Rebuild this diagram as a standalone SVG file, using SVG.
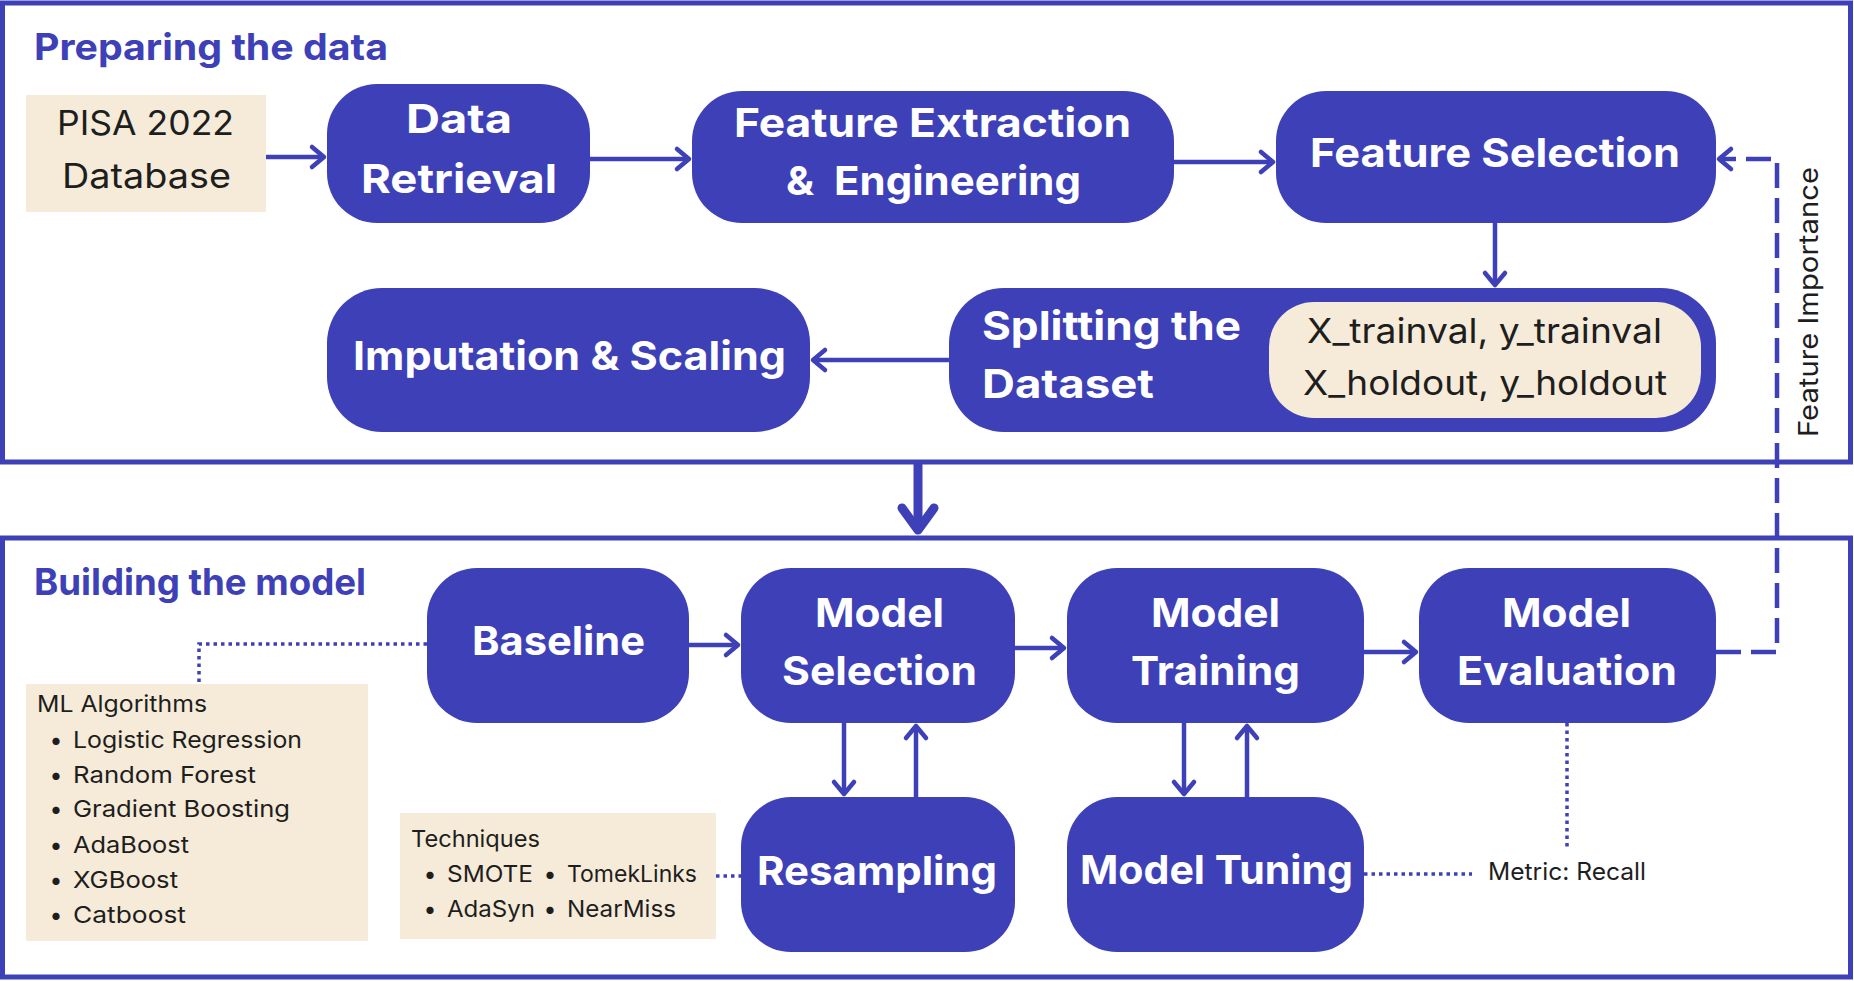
<svg xmlns="http://www.w3.org/2000/svg" width="1854" height="981" viewBox="0 0 1854 981">
  <style>
    .frame { fill: #ffffff; stroke: #3E40B8; stroke-width: 5; }
    .node { fill: #3E40B8; }
    .note { fill: #F5EBD8; }
    .title { font-family: Inter, "Liberation Sans", sans-serif; font-weight: 700; font-size: 37px; fill: #3E40B8; }
    .lbl { font-family: Inter, "Liberation Sans", sans-serif; font-weight: 700; font-size: 40px; fill: #ffffff; }
    .txt { font-family: Inter, "Liberation Sans", sans-serif; font-weight: 400; font-size: 34px; fill: #1E1E1E; }
    .sm { font-family: Inter, "Liberation Sans", sans-serif; font-weight: 400; font-size: 23px; fill: #1E1E1E; }
    .bul { font-family: Inter, "Liberation Sans", sans-serif; font-weight: 400; font-size: 23px; fill: #1E1E1E; text-anchor: middle; }
    .arrow { fill: none; stroke: #3E40B8; stroke-width: 4.5; marker-end: url(#ah); }
    .dash { fill: none; stroke: #3E40B8; stroke-width: 4.5; stroke-dasharray: 25 10; marker-end: url(#ah); }
    .dot { fill: none; stroke: #3E40B8; stroke-width: 3.5; stroke-dasharray: 3.5 4; }
    .big { fill: none; stroke: #3E40B8; stroke-width: 9; marker-end: url(#bigah); }
  </style>
  <defs>
    <marker id="ah" markerUnits="userSpaceOnUse" viewBox="-20 -15 25 30" markerWidth="25" markerHeight="30" refX="0" refY="0" orient="auto" overflow="visible">
      <path d="M-12 -10 L0 0 L-12 10" fill="none" stroke="#3E40B8" stroke-width="4.5" stroke-linecap="round" stroke-linejoin="round" stroke-dasharray="none"/>
    </marker>
    <marker id="bigah" markerUnits="userSpaceOnUse" viewBox="-30 -25 40 50" markerWidth="40" markerHeight="50" refX="0" refY="0" orient="auto" overflow="visible">
      <path d="M-22 -16 L0 0 L-22 16" fill="none" stroke="#3E40B8" stroke-width="9" stroke-linecap="round" stroke-linejoin="round"/>
    </marker>
  </defs>

  <g id="frame-prepare">
    <rect class="frame" x="2.5" y="3" width="1848" height="459"/>
    <text class="title" x="34" y="60" textLength="354" lengthAdjust="spacingAndGlyphs">Preparing the data</text>
  </g>
  <g id="frame-build">
    <rect class="frame" x="2.5" y="538" width="1848" height="439"/>
    <text class="title" x="34" y="595" textLength="332" lengthAdjust="spacingAndGlyphs">Building the model</text>
  </g>

  <g id="connectors">
    <line class="arrow" x1="266" y1="157" x2="324" y2="157"/>
    <line class="arrow" x1="590" y1="159" x2="689" y2="159"/>
    <line class="arrow" x1="1174" y1="162" x2="1273" y2="162"/>
    <line class="arrow" x1="1495" y1="223" x2="1495" y2="285"/>
    <line class="arrow" x1="949" y1="360" x2="813" y2="360"/>
    <path class="dash" d="M1716 652 H1777 V159 H1719"/>
    <line class="big" x1="918" y1="462" x2="918" y2="530"/>
    <line class="arrow" x1="689" y1="645" x2="738" y2="645"/>
    <line class="arrow" x1="1015" y1="648" x2="1064" y2="648"/>
    <line class="arrow" x1="1364" y1="652" x2="1416" y2="652"/>
    <line class="arrow" x1="844" y1="723" x2="844" y2="794"/>
    <line class="arrow" x1="916" y1="797" x2="916" y2="726"/>
    <line class="arrow" x1="1184" y1="723" x2="1184" y2="794"/>
    <line class="arrow" x1="1247" y1="797" x2="1247" y2="726"/>
    <path class="dot" d="M427 644 H199 V684"/>
    <path class="dot" d="M716 876 H741"/>
    <path class="dot" d="M1364 874 H1472"/>
    <path class="dot" d="M1567 723 V847"/>
  </g>

  <g id="pisa">
    <rect class="note" x="26" y="95" width="240" height="117"/>
    <text class="txt" x="57" y="135" textLength="177" lengthAdjust="spacingAndGlyphs">PISA 2022</text>
    <text class="txt" x="62" y="188" textLength="169" lengthAdjust="spacingAndGlyphs">Database</text>
  </g>
  <g id="data-retrieval">
    <rect class="node" x="327" y="84" width="263" height="139" rx="50"/>
    <text class="lbl" x="406" y="133" textLength="106" lengthAdjust="spacingAndGlyphs">Data</text>
    <text class="lbl" x="361" y="193" textLength="196" lengthAdjust="spacingAndGlyphs">Retrieval</text>
  </g>
  <g id="feature-extraction">
    <rect class="node" x="692" y="91" width="482" height="132" rx="50"/>
    <text class="lbl" x="734" y="137" textLength="397" lengthAdjust="spacingAndGlyphs">Feature Extraction</text>
    <text class="lbl" x="786" y="195" xml:space="preserve" textLength="295" lengthAdjust="spacingAndGlyphs">&amp;  Engineering</text>
  </g>
  <g id="feature-selection">
    <rect class="node" x="1276" y="91" width="440" height="132" rx="50"/>
    <text class="lbl" x="1310" y="167" textLength="370" lengthAdjust="spacingAndGlyphs">Feature Selection</text>
  </g>
  <g id="splitting">
    <rect class="node" x="949" y="288" width="767" height="144" rx="55"/>
    <text class="lbl" x="982" y="340" textLength="259" lengthAdjust="spacingAndGlyphs">Splitting the</text>
    <text class="lbl" x="982" y="398" textLength="172" lengthAdjust="spacingAndGlyphs">Dataset</text>
    <rect class="note" x="1269" y="302" width="432" height="116" rx="45"/>
    <text class="txt" x="1307" y="343" textLength="355" lengthAdjust="spacingAndGlyphs">X_trainval, y_trainval</text>
    <text class="txt" x="1303" y="395" textLength="364" lengthAdjust="spacingAndGlyphs">X_holdout, y_holdout</text>
  </g>
  <g id="imputation">
    <rect class="node" x="327" y="288" width="483" height="144" rx="55"/>
    <text class="lbl" x="353" y="370" textLength="433" lengthAdjust="spacingAndGlyphs">Imputation &amp; Scaling</text>
  </g>
  <g id="feature-importance-label">
    <text class="sm" font-size="27" transform="translate(1818 437) rotate(-90)" textLength="270" lengthAdjust="spacingAndGlyphs" style="font-size:27px">Feature Importance</text>
  </g>

  <g id="baseline">
    <rect class="node" x="427" y="568" width="262" height="155" rx="50"/>
    <text class="lbl" x="472" y="655" textLength="173" lengthAdjust="spacingAndGlyphs">Baseline</text>
  </g>
  <g id="model-selection">
    <rect class="node" x="741" y="568" width="274" height="155" rx="50"/>
    <text class="lbl" x="815" y="627" textLength="129" lengthAdjust="spacingAndGlyphs">Model</text>
    <text class="lbl" x="782" y="685" textLength="195" lengthAdjust="spacingAndGlyphs">Selection</text>
  </g>
  <g id="model-training">
    <rect class="node" x="1067" y="568" width="297" height="155" rx="50"/>
    <text class="lbl" x="1151" y="627" textLength="129" lengthAdjust="spacingAndGlyphs">Model</text>
    <text class="lbl" x="1131" y="685" textLength="169" lengthAdjust="spacingAndGlyphs">Training</text>
  </g>
  <g id="model-evaluation">
    <rect class="node" x="1419" y="568" width="297" height="155" rx="50"/>
    <text class="lbl" x="1502" y="627" textLength="129" lengthAdjust="spacingAndGlyphs">Model</text>
    <text class="lbl" x="1457" y="685" textLength="220" lengthAdjust="spacingAndGlyphs">Evaluation</text>
  </g>
  <g id="resampling">
    <rect class="node" x="741" y="797" width="274" height="155" rx="50"/>
    <text class="lbl" x="757" y="885" textLength="240" lengthAdjust="spacingAndGlyphs">Resampling</text>
  </g>
  <g id="model-tuning">
    <rect class="node" x="1067" y="797" width="297" height="155" rx="50"/>
    <text class="lbl" x="1080" y="884" textLength="273" lengthAdjust="spacingAndGlyphs">Model Tuning</text>
  </g>

  <g id="ml-algorithms">
    <rect class="note" x="26" y="684" width="342" height="257"/>
    <text class="sm" x="37" y="712" textLength="170" lengthAdjust="spacingAndGlyphs">ML Algorithms</text>
    <text class="bul" x="56" y="748">•</text>
    <text class="sm" x="73" y="748" textLength="229" lengthAdjust="spacingAndGlyphs">Logistic Regression</text>
    <text class="bul" x="56" y="783">•</text>
    <text class="sm" x="73" y="783" textLength="183" lengthAdjust="spacingAndGlyphs">Random Forest</text>
    <text class="bul" x="56" y="817">•</text>
    <text class="sm" x="73" y="817" textLength="217" lengthAdjust="spacingAndGlyphs">Gradient Boosting</text>
    <text class="bul" x="56" y="853">•</text>
    <text class="sm" x="73" y="853" textLength="116" lengthAdjust="spacingAndGlyphs">AdaBoost</text>
    <text class="bul" x="56" y="888">•</text>
    <text class="sm" x="73" y="888" textLength="105" lengthAdjust="spacingAndGlyphs">XGBoost</text>
    <text class="bul" x="56" y="923">•</text>
    <text class="sm" x="73" y="923" textLength="113" lengthAdjust="spacingAndGlyphs">Catboost</text>
  </g>
  <g id="techniques">
    <rect class="note" x="400" y="813" width="316" height="126"/>
    <text class="sm" x="411" y="847" textLength="129" lengthAdjust="spacingAndGlyphs">Techniques</text>
    <text class="bul" x="430" y="882">•</text>
    <text class="sm" x="447" y="882" textLength="86" lengthAdjust="spacingAndGlyphs">SMOTE</text>
    <text class="bul" x="550" y="882">•</text>
    <text class="sm" x="567" y="882" textLength="130" lengthAdjust="spacingAndGlyphs">TomekLinks</text>
    <text class="bul" x="430" y="917">•</text>
    <text class="sm" x="447" y="917" textLength="88" lengthAdjust="spacingAndGlyphs">AdaSyn</text>
    <text class="bul" x="550" y="917">•</text>
    <text class="sm" x="567" y="917" textLength="109" lengthAdjust="spacingAndGlyphs">NearMiss</text>
  </g>
  <g id="metric">
    <text class="sm" x="1488" y="880" textLength="158" lengthAdjust="spacingAndGlyphs" style="font-size:24px">Metric: Recall</text>
  </g>
</svg>
